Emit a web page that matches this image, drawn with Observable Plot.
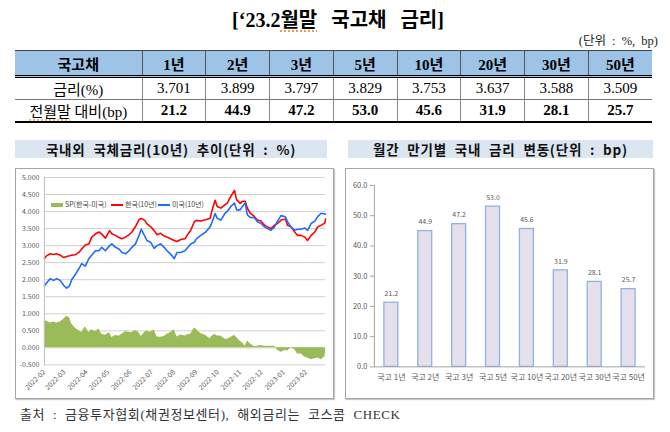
<!DOCTYPE html>
<html><head><meta charset="utf-8">
<script src="https://cdn.jsdelivr.net/npm/d3@7"></script>
<script src="https://cdn.jsdelivr.net/npm/@observablehq/plot@0.6"></script>
<style>
body{margin:0;width:670px;height:432px;background:#fff;position:relative;overflow:hidden;font-family:"Noto Sans CJK KR",sans-serif;}
.abs{position:absolute;}
.serif{font-family:"Liberation Serif","Noto Sans CJK KR",serif;}
#title{left:0;width:676px;top:4px;text-align:center;font-weight:bold;font-size:20px;color:#000;word-spacing:9px;}
.sq{text-decoration:underline dotted #e8a050;text-underline-offset:3px;}
#unit{right:12px;top:30px;font-size:12.5px;color:#222;word-spacing:3px;}
#tbl{left:15px;top:50px;width:637px;border-collapse:collapse;table-layout:fixed;font-size:15px;}
#tbl td{text-align:center;padding:0;color:#000;}
#tbl tr.h td{background:#9dc3e6;height:24px;font-weight:bold;border-top:1px solid #444;border-bottom:3px double #000;border-left:1px solid #555;}
#tbl tr.h td:first-child{border-left:none;}
#tbl tr.r1 td{height:21px;border-bottom:1px solid #777;border-left:1px solid #888;}
#tbl tr.r2 td{height:21px;border-bottom:2px solid #000;border-left:1px solid #888;font-weight:bold;}
#tbl tr.r1 td:first-child,#tbl tr.r2 td:first-child{border-left:none;font-weight:normal;}
.tbar{height:18px;background:#dce6f1;font-weight:bold;font-size:13.5px;text-align:center;line-height:18px;color:#111;letter-spacing:0.8px;word-spacing:4px;}
.box{border:1px solid #a6a6a6;box-shadow:1px 1px 1px #c8c8c8;box-sizing:border-box;background:#fff;}
.box svg{position:absolute;left:0;top:0;}
.lg{font-size:7px;color:#444;position:absolute;white-space:nowrap;}
#foot{left:20px;top:404px;font-size:13px;color:#333;letter-spacing:0.6px;word-spacing:4px;}
</style></head>
<body>
<div id="title" class="abs serif">[‘23.2<span class="sq">월말</span> 국고채 금리]</div>
<div id="unit" class="abs serif">(단위 : %, bp)</div>
<table id="tbl" class="abs serif"></table>

<div class="abs tbar" style="left:15px;top:140px;width:312px;">국내외 국체금리(10년) 추이(단위 : %)</div>
<div class="abs tbar" style="left:348px;top:140px;width:305px;">월간 만기별 국내 금리 변동(단위 : bp)</div>

<div id="leftBox" class="abs box" style="left:15px;top:168px;width:319px;height:231px;">
  <div class="lg" style="left:35px;top:30px;"><span style="display:inline-block;width:12px;height:4px;background:#9bbb59;vertical-align:middle;margin-right:2px;"></span>SP(한국-미국)</div>
  <div class="lg" style="left:95px;top:30px;"><span style="display:inline-block;width:12px;height:2px;background:#ff0000;vertical-align:middle;margin-right:2px;"></span>한국(10년)</div>
  <div class="lg" style="left:142px;top:30px;"><span style="display:inline-block;width:12px;height:2px;background:#1f6bff;vertical-align:middle;margin-right:2px;"></span>미국(10년)</div>
</div>
<div id="rightBox" class="abs box" style="left:345px;top:168px;width:309px;height:231px;"></div>

<div id="foot" class="abs serif">출처 : 금융투자협회(채권정보센터), 해외금리는 코스콤 CHECK</div>

<script>
// ---- table / bar data ----
const maturities = ["1년","2년","3년","5년","10년","20년","30년","50년"];
const rates = ["3.701","3.899","3.797","3.829","3.753","3.637","3.588","3.509"];
const changes = [21.2,44.9,47.2,53.0,45.6,31.9,28.1,25.7];
const barCats = ["국고 1년","국고 2년","국고 3년","국고 5년","국고 10년","국고 20년","국고 30년","국고 50년"];
const barYTicks = [0,10,20,30,40,50,60];

// ---- 10y yield time series ----
const dates = ["2022-02-01","2022-02-04","2022-02-09","2022-02-14","2022-02-18","2022-02-23","2022-02-28","2022-03-04","2022-03-08","2022-03-11","2022-03-16","2022-03-21","2022-03-25","2022-03-30","2022-04-04","2022-04-08","2022-04-13","2022-04-18","2022-04-22","2022-04-27","2022-05-03","2022-05-06","2022-05-11","2022-05-16","2022-05-20","2022-05-25","2022-05-31","2022-06-03","2022-06-08","2022-06-13","2022-06-16","2022-06-21","2022-06-24","2022-06-29","2022-07-04","2022-07-08","2022-07-13","2022-07-18","2022-07-22","2022-07-27","2022-08-01","2022-08-05","2022-08-10","2022-08-16","2022-08-19","2022-08-24","2022-08-29","2022-09-01","2022-09-07","2022-09-14","2022-09-20","2022-09-23","2022-09-27","2022-09-30","2022-10-05","2022-10-11","2022-10-14","2022-10-19","2022-10-24","2022-10-27","2022-11-01","2022-11-04","2022-11-08","2022-11-11","2022-11-15","2022-11-21","2022-11-25","2022-11-30","2022-12-05","2022-12-09","2022-12-14","2022-12-19","2022-12-23","2022-12-28","2023-01-03","2023-01-06","2023-01-11","2023-01-16","2023-01-20","2023-01-25","2023-01-30","2023-02-03","2023-02-08","2023-02-13","2023-02-17","2023-02-22","2023-02-27","2023-02-28"];
const korea10y = [2.62,2.70,2.76,2.74,2.76,2.72,2.65,2.68,2.70,2.72,2.73,2.80,2.90,3.02,3.05,3.25,3.34,3.40,3.34,3.22,3.44,3.35,3.30,3.24,3.20,3.25,3.34,3.40,3.56,3.76,3.80,3.74,3.64,3.56,3.44,3.32,3.36,3.28,3.25,3.20,3.15,3.12,3.18,3.20,3.30,3.45,3.70,3.74,3.72,3.76,3.80,4.05,4.33,4.15,4.10,4.20,4.25,4.45,4.62,4.35,4.24,4.30,4.30,4.10,3.95,3.85,3.75,3.72,3.60,3.55,3.50,3.60,3.65,3.75,3.78,3.60,3.55,3.40,3.30,3.30,3.25,3.15,3.30,3.40,3.55,3.60,3.66,3.78];
const us10y = [1.82,1.90,2.03,1.98,2.03,1.98,1.83,1.75,1.82,2.00,2.15,2.32,2.47,2.40,2.62,2.72,2.85,2.85,2.95,2.85,3.00,3.05,2.95,2.90,2.80,2.76,2.87,2.95,3.05,3.30,3.48,3.28,3.15,3.10,2.92,3.00,3.05,2.95,2.85,2.75,2.62,2.80,2.80,2.85,2.92,3.05,3.10,3.20,3.30,3.40,3.55,3.70,3.94,3.80,3.75,3.95,4.00,4.15,4.25,4.05,4.05,4.15,4.25,3.90,3.83,3.82,3.70,3.65,3.55,3.50,3.45,3.55,3.72,3.88,3.85,3.70,3.55,3.45,3.48,3.48,3.52,3.45,3.65,3.72,3.85,3.95,3.93,3.92];
const spread = [0.80,0.78,0.73,0.76,0.73,0.76,0.84,0.93,0.88,0.70,0.58,0.50,0.45,0.62,0.45,0.53,0.47,0.55,0.40,0.37,0.44,0.30,0.36,0.34,0.40,0.47,0.45,0.45,0.50,0.45,0.33,0.46,0.49,0.46,0.52,0.32,0.31,0.33,0.40,0.45,0.53,0.32,0.38,0.35,0.38,0.40,0.58,0.54,0.42,0.36,0.27,0.35,0.39,0.35,0.35,0.25,0.25,0.30,0.37,0.30,0.19,0.15,0.05,0.20,0.12,0.03,0.05,0.07,0.05,0.05,0.05,0.05,-0.07,-0.13,-0.07,-0.10,0.00,-0.05,-0.18,-0.18,-0.27,-0.30,-0.35,-0.32,-0.30,-0.35,-0.27,-0.14];
const monthTicks = ["2022-02-01","2022-03-01","2022-04-01","2022-05-01","2022-06-01","2022-07-01","2022-08-01","2022-09-01","2022-10-01","2022-11-01","2022-12-01","2023-01-01","2023-02-01"];
const leftYTicks = [-0.5,0,0.5,1,1.5,2,2.5,3,3.5,4,4.5,5];

// ---- table ----
const tbl = document.getElementById("tbl");
let html = '<colgroup><col style="width:127px">' + maturities.map(()=>'<col style="width:63.75px">').join("") + '</colgroup>';
html += '<tr class="h"><td>국고채</td>' + maturities.map(m=>`<td>${m}</td>`).join("") + '</tr>';
html += '<tr class="r1"><td>금리(%)</td>' + rates.map(r=>`<td>${r}</td>`).join("") + '</tr>';
html += '<tr class="r2"><td><span class="sq">전월말</span> 대비(bp)</td>' + changes.map(c=>`<td>${c.toFixed(1)}</td>`).join("") + '</tr>';
tbl.innerHTML = html;

const font = '"Noto Sans CJK KR", sans-serif';

// ---- left chart ----
const rows = dates.map((d,i)=>({date:new Date(d), kr:korea10y[i], us:us10y[i], sp:spread[i]}));
const left = Plot.plot({
  width: 318, height: 230,
  marginLeft: 28, marginRight: 8, marginTop: 8, marginBottom: 34,
  x: {type: "utc", domain: [new Date("2022-02-01"), new Date("2023-02-28")], label: null},
  y: {domain: [-0.5, 5], label: null},
  style: {fontFamily: font, fontSize: "7px", color: "#595959", background: "transparent", overflow: "visible"},
  marks: [
    Plot.ruleY(leftYTicks, {stroke: "#d0d0d0", strokeWidth: 1}),
    Plot.areaY(rows, {x: "date", y: "sp", fill: "#9bbb59"}),
    Plot.lineY(rows, {x: "date", y: "kr", stroke: "#ff0000", strokeWidth: 1.6}),
    Plot.lineY(rows, {x: "date", y: "us", stroke: "#1f6bff", strokeWidth: 1.6}),
    Plot.frame({anchor: "left", stroke: "#bfbfbf"}),
    Plot.axisY({ticks: leftYTicks, tickFormat: d => d.toFixed(3), tickSize: 0, tickPadding: 5, fill: "#595959"}),
    Plot.axisX({ticks: monthTicks.map(d => new Date(d)), tickFormat: d3.utcFormat("%Y-%m"), tickRotate: -45, tickSize: 0, tickPadding: 6, fill: "#595959"})
  ]
});
document.getElementById("leftBox").prepend(left);

// ---- right chart ----
const bars = barCats.map((c,i)=>({cat:c, v:changes[i]}));
const right = Plot.plot({
  width: 308, height: 230,
  marginLeft: 28, marginRight: 8, marginTop: 16, marginBottom: 32,
  x: {domain: barCats, paddingInner: 0.59, paddingOuter: 0.295, label: null},
  y: {domain: [0, 60], label: null},
  style: {fontFamily: font, fontSize: "7.5px", color: "#595959", background: "transparent", overflow: "visible"},
  marks: [
    Plot.barY(bars, {x: "cat", y: "v", fill: "#e6e0ec", stroke: "#8db3e2", strokeWidth: 1.3}),
    Plot.text(bars, {x: "cat", y: "v", text: d => d.v.toFixed(1), dy: -9, fontSize: 7, fill: "#595959"}),
    Plot.frame({anchor: "left", stroke: "#a6a6a6"}),
    Plot.ruleY([0], {stroke: "#a6a6a6"}),
    Plot.axisY({ticks: barYTicks, tickFormat: d => d.toFixed(1), tickSize: 4, tickPadding: 3, stroke: "#a6a6a6", fill: "#595959"}),
    Plot.axisX({tickSize: 0, tickPadding: 7, fontSize: 8, fill: "#595959"})
  ]
});
document.getElementById("rightBox").prepend(right);
</script>
</body></html>
